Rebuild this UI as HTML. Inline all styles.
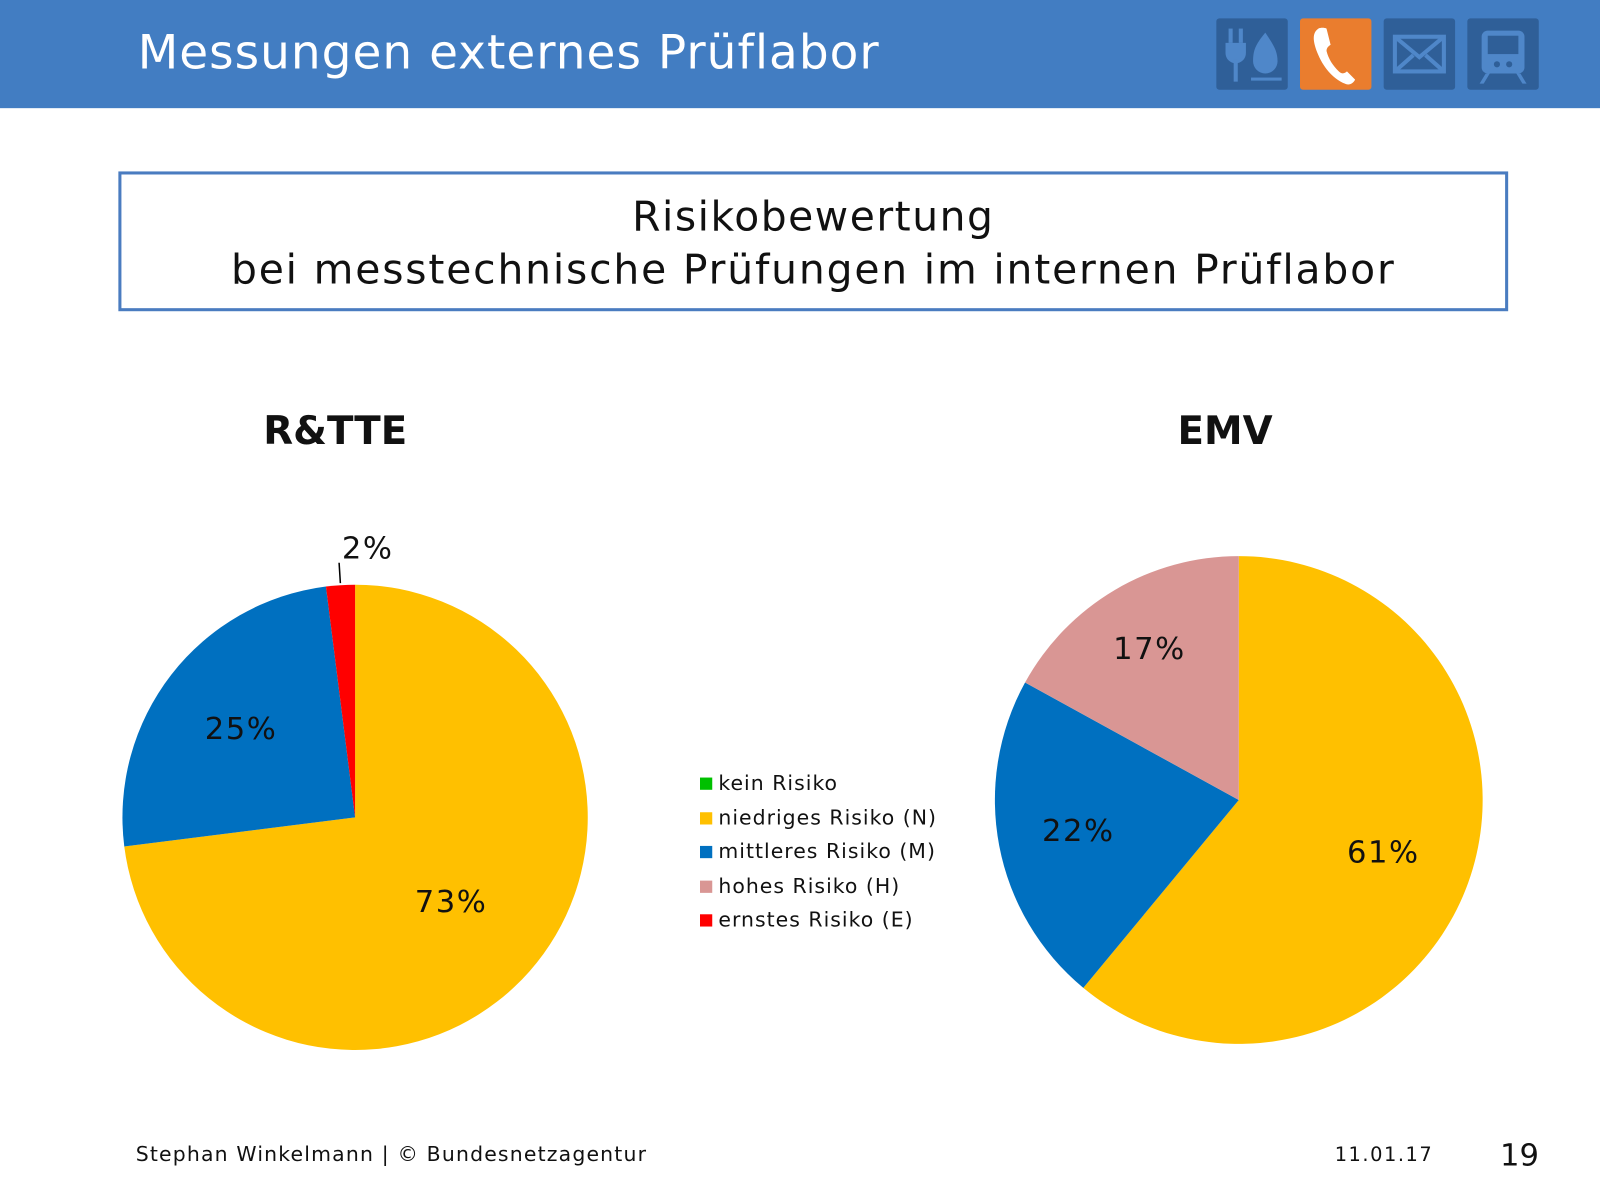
<!DOCTYPE html>
<html><head><meta charset="utf-8">
<style>
html,body{margin:0;padding:0;width:1600px;height:1200px;overflow:hidden;background:#fff;}
#stage{position:absolute;left:0;top:0;width:1568px;height:1176px;transform:scale(1.02041);transform-origin:0 0;font-family:Verdana,"DejaVu Sans","Liberation Sans",sans-serif;color:#111;}
.abs{position:absolute;white-space:nowrap;}
#header{position:absolute;left:0;top:0;width:1568px;height:106px;background:#427dc2;}
.icon{position:absolute;top:18px;width:70px;height:70px;border-radius:3px;background:#2f5f98;}
#box{position:absolute;left:116px;top:168px;width:1362px;border:3px solid #4a7cc0;text-align:center;font-size:40px;line-height:52px;padding-top:16px;box-sizing:border-box;height:137px;}
.leg{position:absolute;left:686px;font-size:20px;letter-spacing:1px;}
.leg span.sw{display:inline-block;width:12px;height:12px;margin-right:6px;vertical-align:0px;}
</style></head>
<body>
<div id="stage">
 <div id="header">
  <div class="abs" style="left:135px;top:24px;font-size:46px;color:#fff;letter-spacing:1px;">Messungen externes Prüflabor</div>
  <div class="icon" style="left:1192px">
   <svg width="70" height="70"><g fill="#4f87c9"><rect x="12" y="10" width="4" height="14"/><rect x="22" y="10" width="4" height="14"/><path d="M9 24h20v10a10 10 0 0 1-20 0z"/><rect x="17" y="40" width="4" height="22"/><path d="M48 14c-10 12-12 18-12 28a12 12 0 0 0 24 0c0-10-4-16-12-28z"/><rect x="34" y="58" width="30" height="3"/></g></svg>
  </div>
  <div class="icon" style="left:1274px;background:#ea7d2e">
   <svg width="70" height="70"><path d="M18 10c-6 4-6 12 0 26s16 24 26 28c4 2 8 0 10-4l-8-8c-2 2-5 3-8 0-6-6-10-12-12-20 0-3 2-5 4-6l-4-16c-2-1-6-1-8 0z" fill="#fff"/></svg>
  </div>
  <div class="icon" style="left:1356px">
   <svg width="70" height="70"><g fill="none" stroke="#4f87c9" stroke-width="4"><rect x="11" y="18" width="48" height="34"/><path d="M11 18l24 20 24-20M11 52l18-16M59 52l-18-16"/></g></svg>
  </div>
  <div class="icon" style="left:1438px">
   <svg width="70" height="70"><g fill="#4f87c9"><path d="M20 12h30a6 6 0 0 1 6 6v30a6 6 0 0 1-6 6h-30a6 6 0 0 1-6-6v-30a6 6 0 0 1 6-6z"/><rect x="20" y="17" width="30" height="18" fill="#2f5f98"/><circle cx="29" cy="45" r="3" fill="#2f5f98"/><circle cx="41" cy="45" r="3" fill="#2f5f98"/><path d="M18 54l-6 10h4l6-10zM52 54l6 10h-4l-6-10z"/></g></svg>
  </div>
 </div>
 <div id="box"><div style="letter-spacing:1.5px">Risikobewertung</div><div style="letter-spacing:1.8px">bei messtechnische Prüfungen im internen Prüflabor</div></div>
 <div class="abs" style="left:258px;top:400px;font-size:38px;font-weight:bold;">R&amp;TTE</div>
 <div class="abs" style="left:1154px;top:400px;font-size:38px;font-weight:bold;">EMV</div>
 <svg id="pies" width="1568" height="1176" style="position:absolute;left:0;top:0"></svg>
 <div class="leg" style="top:755px"><span class="sw" style="background:#00c000"></span>kein Risiko</div>
 <div class="leg" style="top:789px"><span class="sw" style="background:#ffc000"></span>niedriges Risiko (N)</div>
 <div class="leg" style="top:822px"><span class="sw" style="background:#0070c0"></span>mittleres Risiko (M)</div>
 <div class="leg" style="top:856px"><span class="sw" style="background:#d99694"></span>hohes Risiko (H)</div>
 <div class="leg" style="top:889px"><span class="sw" style="background:#ff0000"></span>ernstes Risiko (E)</div>
 <div class="abs" style="left:133px;top:1119px;font-size:20px;letter-spacing:1.15px;">Stephan Winkelmann | © Bundesnetzagentur</div>
 <div class="abs" style="left:1308px;top:1121px;font-size:19px;letter-spacing:1.5px;">11.01.17</div>
 <div class="abs" style="left:1470px;top:1115px;font-size:30px;">19</div>
</div>
<script>
const rtteCategories = ["niedriges Risiko (N)", "mittleres Risiko (M)", "ernstes Risiko (E)"];
const rtteValues = [73, 25, 2];
const rtteColors = ["#ffc000", "#0070c0", "#ff0000"];
const rtteLabels = ["73%", "25%", "2%"];
const rtteLabelRadius = [0.55, 0.62, 0];
const emvCategories = ["niedriges Risiko (N)", "mittleres Risiko (M)", "hohes Risiko (H)"];
const emvValues = [61, 22, 17];
const emvColors = ["#ffc000", "#0070c0", "#d99694"];
const emvLabels = ["61%", "22%", "17%"];
const emvLabelRadius = [0.63, 0.67, 0.72];

const NS = "http://www.w3.org/2000/svg";
const svg = document.getElementById("pies");
function pt(cx, cy, r, a){ return [cx + r*Math.sin(a), cy - r*Math.cos(a)]; }
function drawPie(name, cx, cy, r, vals, cols, labels, labelR, outsideIdx){
  const total = vals.reduce((s,v)=>s+v,0);
  let a0 = 0;
  vals.forEach((v,i)=>{
    const a1 = a0 + v/total*2*Math.PI;
    const p0 = pt(cx,cy,r,a0), p1 = pt(cx,cy,r,a1);
    const large = (a1-a0) > Math.PI ? 1 : 0;
    const path = document.createElementNS(NS,"path");
    path.setAttribute("d",`M${cx},${cy}L${p0[0]},${p0[1]}A${r},${r} 0 ${large} 1 ${p1[0]},${p1[1]}Z`);
    path.setAttribute("fill",cols[i]);
    
    
    svg.appendChild(path);
    const mid = (a0+a1)/2;
    let lp;
    if (i === outsideIdx){
      const e0 = pt(cx,cy,r+2,mid), e1 = pt(cx,cy,r+22,mid);
      const ln = document.createElementNS(NS,"line");
      ln.setAttribute("x1",e0[0]);ln.setAttribute("y1",e0[1]);
      ln.setAttribute("x2",e1[0]);ln.setAttribute("y2",e1[1]);
      ln.setAttribute("stroke","#000");ln.setAttribute("stroke-width","1.5");
      
      
      svg.appendChild(ln);
      lp = pt(cx,cy,r+38,mid); lp[0]+=29; lp[1]+=2;
    } else {
      lp = pt(cx,cy,r*labelR[i],mid);
    }
    const t = document.createElementNS(NS,"text");
    t.setAttribute("x",lp[0]); t.setAttribute("y",lp[1]+10);
    t.setAttribute("text-anchor","middle");
    t.setAttribute("font-size","30");
    t.setAttribute("letter-spacing","1.5");
    t.setAttribute("font-family",'Verdana,"DejaVu Sans","Liberation Sans",sans-serif');
    t.setAttribute("fill","#111");
    t.textContent = labels[i];
    
    
    svg.appendChild(t);
    a0 = a1;
  });
}
drawPie("rtte-pie", 348, 801, 228, rtteValues, rtteColors, rtteLabels, rtteLabelRadius, 2);
drawPie("emv-pie", 1214, 784, 239, emvValues, emvColors, emvLabels, emvLabelRadius, -1);
</script>
</body></html>
